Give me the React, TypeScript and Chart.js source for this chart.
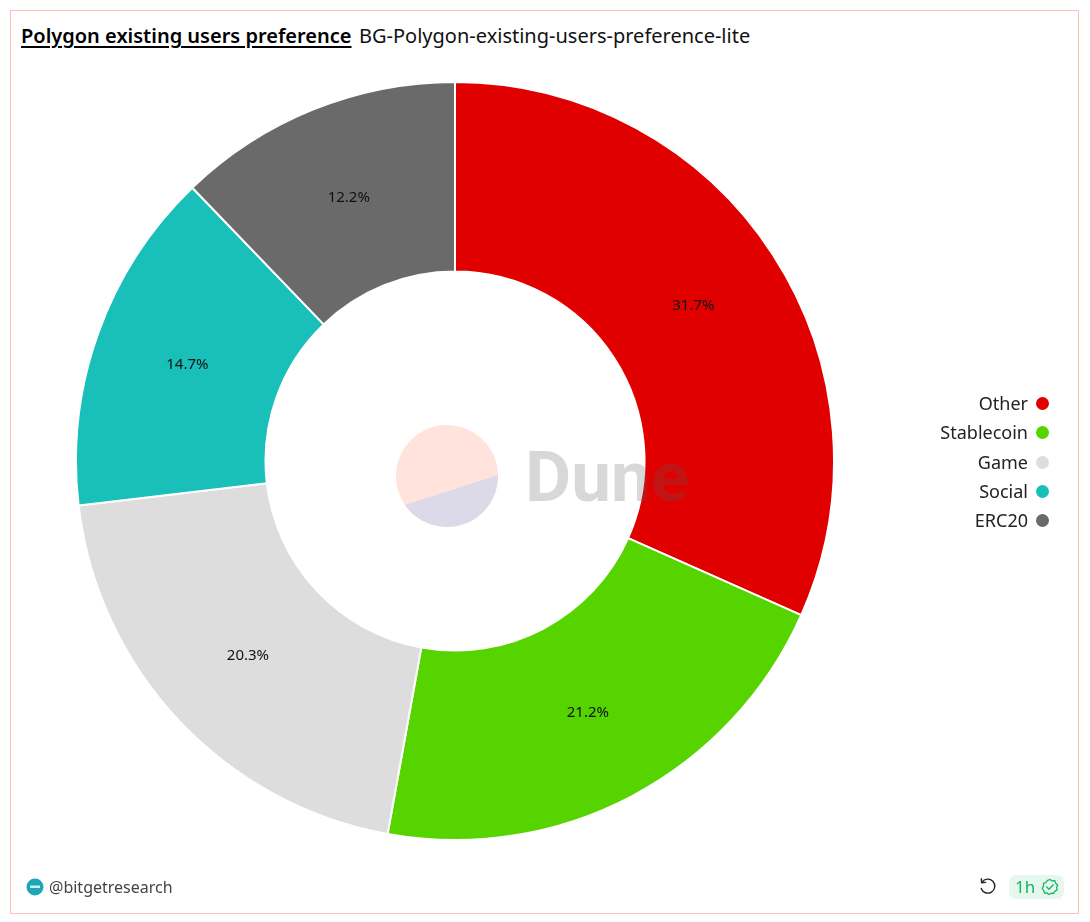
import React, { useEffect, useRef } from "react";
import { Chart, registerables } from "chart.js";

Chart.register(...registerables);

const categories = ["Other", "Stablecoin", "Game", "Social", "ERC20"];
const shares = [31.7, 21.2, 20.3, 14.7, 12.2];
const colors = ["#e10000", "#55d400", "#dddddd", "#19bfb9", "#6a6a6a"];
const title = "Polygon existing users preference";
const subtitle = "BG-Polygon-existing-users-preference-lite";
const author = "@bitgetresearch";
const age = "1h";

const FONT = '"Noto Sans", sans-serif';

const sliceLabels = {
  id: "sliceLabels",
  afterDatasetsDraw(chart: any) {
    const { ctx } = chart;
    const meta = chart.getDatasetMeta(0);
    ctx.save();
    ctx.font = `15px ${FONT}`;
    ctx.fillStyle = "#111111";
    ctx.textAlign = "center";
    ctx.textBaseline = "middle";
    meta.data.forEach((arc: any, i: number) => {
      const p = arc.getCenterPoint();
      ctx.fillText(`${shares[i].toFixed(1)}%`, p.x, p.y);
    });
    ctx.restore();
  },
};

export default function App() {
  const ref = useRef<HTMLCanvasElement>(null);
  useEffect(() => {
    const chart = new Chart(ref.current!, {
      type: "doughnut",
      data: {
        labels: categories,
        datasets: [
          {
            data: shares,
            backgroundColor: colors,
            borderColor: "#ffffff",
            borderWidth: 2,
            hoverOffset: 0,
          },
        ],
      },
      options: {
        responsive: false,
        animation: false,
        cutout: "50%",
        layout: { padding: 0 },
        plugins: { legend: { display: false }, tooltip: { enabled: false } },
      },
      plugins: [sliceLabels],
    });
    return () => chart.destroy();
  }, []);

  const abs: React.CSSProperties = { position: "absolute", whiteSpace: "nowrap" };
  return (
    <div style={{ position: "absolute", left: 0, top: 0, width: 1090, height: 922, background: "#fff", fontFamily: FONT, overflow: "hidden" }}>
      <div style={{ ...abs, left: 9.5, top: 9.5, width: 1069, height: 904, border: "1px solid #fcc2ba", boxSizing: "border-box" }} />
      <div style={{ ...abs, left: 21, top: 22, fontSize: 20, lineHeight: "28px", fontWeight: 600, color: "#000", textDecoration: "underline", textUnderlineOffset: 3 }}>{title}</div>
      <div style={{ ...abs, left: 359, top: 22, fontSize: 20, lineHeight: "28px", color: "#111" }}>{subtitle}</div>

      <canvas ref={ref} width={760} height={760} style={{ position: "absolute", left: 74.5, top: 81 }} />

      <svg width={1090} height={922} style={{ position: "absolute", left: 0, top: 0, pointerEvents: "none" }}>
        <circle cx={447} cy={476} r={51} fill="#ffe3dc" />
        <path d="M405 505 L498 475 A51 51 0 0 1 405 505 Z" fill="#dcdae8" />
        <text x={525} y={501} fontFamily="Roboto, sans-serif" fontWeight={700} fontSize={71} fill="#555555" fillOpacity={0.23}>Dune</text>
      </svg>

      {categories.map((c, i) => (
        <div key={c}>
          <div style={{ ...abs, right: 62, top: 389 + i * 29.25, fontSize: 18, lineHeight: "29px", color: "#222", textAlign: "right" }}>{c}</div>
          <div style={{ position: "absolute", left: 1036, top: 397 + i * 29.25, width: 13, height: 13, borderRadius: "50%", background: colors[i] }} />
        </div>
      ))}

      <svg width={18} height={18} style={{ position: "absolute", left: 26, top: 878 }}>
        <circle cx={9} cy={9} r={8.5} fill="#1ea6b8" />
        <rect x={4} y={7.5} width={10} height={2.5} fill="#cfeef2" />
      </svg>
      <div style={{ ...abs, left: 49, top: 876, fontSize: 16, lineHeight: "22px", color: "#444" }}>{author}</div>

      <svg width={20} height={20} viewBox="0 0 20 20" style={{ position: "absolute", left: 978, top: 877 }} fill="none" stroke="#222" strokeWidth={1.4} strokeLinecap="round" strokeLinejoin="round">
        <path d="M4 5.2 A7 7 0 1 1 3.2 11.5" />
        <path d="M3.4 1.8 L3.6 5.8 L7.6 5.4" />
      </svg>
      <div style={{ position: "absolute", left: 1009, top: 875, width: 55, height: 24, borderRadius: 7, background: "#e6f7ee" }} />
      <div style={{ ...abs, left: 1015, top: 876, fontSize: 17, lineHeight: "22px", color: "#12b866" }}>{age}</div>
      <svg width={18} height={18} viewBox="0 0 18 18" style={{ position: "absolute", left: 1040.5, top: 878 }} fill="none" stroke="#12b866" strokeWidth={1.3} strokeLinecap="round" strokeLinejoin="round">
        <path d="M9 1.5 L11.2 2.9 L13.8 2.7 L14.7 5.2 L16.6 7 L15.6 9.4 L16.2 12 L13.9 13.2 L12.6 15.5 L10 15.2 L8 16.5 L6 15 L3.5 15 L2.7 12.5 L1.2 10.3 L2.6 8 L2.5 5.4 L5 4.4 L6.6 2.4 Z" />
        <path d="M5.8 9 L8 11.2 L12.2 6.8" />
      </svg>
    </div>
  );
}
